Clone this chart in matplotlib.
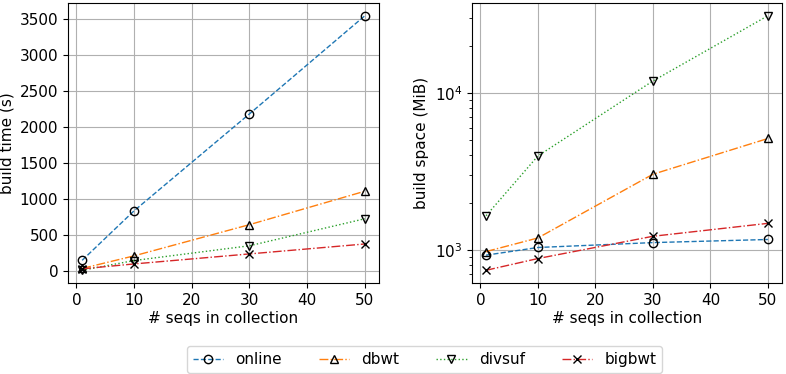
import matplotlib
matplotlib.use("Agg")
import matplotlib.pyplot as plt

x = [1, 10, 30, 50]
names = ["online", "dbwt", "divsuf", "bigbwt"]
time_online = [153, 840, 2185, 3547]
time_dbwt = [40, 215, 648, 1112]
time_divsuf = [15, 150, 355, 730]
time_bigbwt = [35, 103, 242, 380]
space_online = [925, 1035, 1112, 1164]
space_dbwt = [975, 1190, 3030, 5120]
space_divsuf = [1650, 3960, 11900, 31000]
space_bigbwt = [741, 880, 1220, 1475]

times = [time_online, time_dbwt, time_divsuf, time_bigbwt]
spaces = [space_online, space_dbwt, space_divsuf, space_bigbwt]
colors = ["tab:blue", "tab:orange", "tab:green", "tab:red"]
styles = ["--", "-.", ":", "-."]
markers = ["o", "^", "v", "x"]

plt.rcParams["font.size"] = 11
fig = plt.figure(figsize=(7.86, 3.74), dpi=100)
ax1 = fig.add_axes([68/786, 1-283/374, 311/786, 280/374])
ax2 = fig.add_axes([472/786, 1-283/374, 310/786, 280/374])

handles = []
for i in range(4):
    for ax, data in ((ax1, times[i]), (ax2, spaces[i])):
        h, = ax.plot(x, data, linestyle=styles[i], color=colors[i], marker=markers[i],
                     markerfacecolor="none", markeredgecolor="black", linewidth=1,
                     markersize=6, label=names[i])
    handles.append(h)

for ax in (ax1, ax2):
    ax.grid(True, color="#b0b0b0", linewidth=0.8)
    ax.set_xlabel("# seqs in collection", labelpad=2)
    ax.set_xticks([0, 10, 20, 30, 40, 50])
ax1.set_ylabel("build time (s)")
ax1.set_yticks([0, 500, 1000, 1500, 2000, 2500, 3000, 3500])
ax2.set_yscale("log")
ax2.set_ylabel("build space (MiB)")

leg = fig.legend(handles=handles, labels=names, loc="lower center", ncol=4,
                 bbox_to_anchor=(424.5/786, 0.0), handlelength=2.0, columnspacing=2.4,
                 fontsize=11, borderaxespad=0.05)

fig.savefig("out.png", dpi=100)
